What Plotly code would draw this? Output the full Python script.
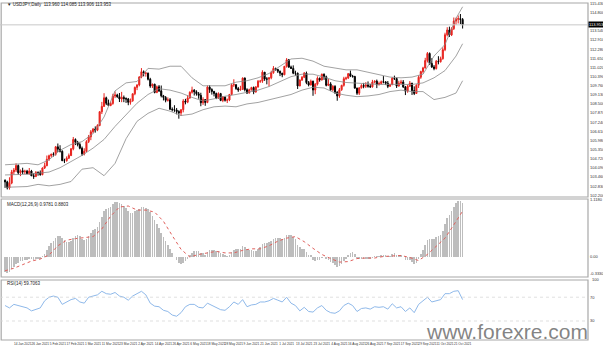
import plotly.graph_objects as go
import pandas as pd

# ---------------- data (USDJPY daily, Jan 4 - Oct 21 2021) ----------------
opens = [
 103.24,103.12,102.71,103.04,103.81,103.94,104.25,103.75,103.89,103.82,
 103.86,103.68,103.87,103.54,103.50,103.77,103.76,103.62,104.08,104.24,
 104.68,104.93,105.04,105.02,105.54,105.38,105.23,104.58,104.58,104.76,
 104.94,105.40,106.05,105.86,105.70,105.44,105.06,105.24,105.90,106.23,
 106.58,106.76,106.69,107.01,107.96,108.33,108.92,108.54,108.39,108.53,
 109.04,109.12,109.00,108.84,108.95,108.87,108.84,108.61,108.71,109.20,
 109.64,109.81,110.35,110.72,110.61,110.62,110.20,109.73,109.86,109.29,
 109.68,109.40,109.06,108.95,108.75,108.78,108.13,108.10,108.08,107.98,
 107.88,108.10,108.70,108.62,108.91,109.30,109.45,109.34,109.20,109.09,
 108.58,108.80,108.60,109.66,109.49,109.36,109.22,108.90,109.21,108.74,
 108.97,108.75,108.77,109.15,109.80,109.83,109.56,109.46,109.50,110.28,
 109.48,109.25,109.48,109.63,109.33,109.67,110.06,110.07,110.69,110.22,
 110.21,110.30,110.65,110.95,110.88,110.75,110.62,110.51,111.09,111.54,
 111.04,110.95,110.62,110.62,109.74,110.15,110.34,110.62,109.97,109.81,
 110.07,109.46,109.86,110.27,110.15,110.55,110.37,109.78,109.88,109.47,
 109.71,109.31,109.05,109.48,109.78,110.24,110.29,110.59,110.42,110.39,
 109.59,109.24,109.61,109.77,109.72,109.80,109.72,109.68,110.01,110.07,
 109.83,109.91,110.03,110.02,109.93,109.71,109.83,110.27,110.25,109.73,
 109.93,110.01,109.67,109.38,109.72,109.93,109.42,109.22,109.79,110.34,
 110.73,110.98,111.49,111.98,111.29,111.05,110.94,111.44,111.41,111.62,
 112.24,113.27,113.60,113.26,113.69,114.21,114.34,114.38,114.33]
highs = [
 103.29,103.20,103.44,103.95,104.08,104.40,104.32,103.98,104.10,103.96,
 103.95,104.08,103.95,103.72,103.87,103.85,103.91,104.12,104.45,104.94,
 105.00,105.06,105.16,105.60,105.77,105.65,105.30,104.72,104.88,105.08,
 105.46,106.22,106.12,105.95,105.84,105.56,105.44,106.00,106.36,106.70,
 106.84,106.95,107.10,108.00,108.64,109.24,109.00,108.80,108.65,109.20,
 109.36,109.20,109.25,109.33,109.08,108.95,108.91,108.87,109.22,109.70,
 109.85,110.42,110.97,110.81,110.71,110.66,110.30,109.90,109.89,109.77,
 109.80,109.77,109.12,109.04,108.95,108.90,108.26,108.41,108.22,108.06,
 108.13,108.83,108.85,109.10,109.37,109.69,109.52,109.44,109.32,109.27,
 108.96,108.82,109.77,109.79,109.58,109.40,109.28,109.30,109.26,109.04,
 109.01,108.87,109.19,109.90,110.20,109.85,109.67,109.75,110.33,110.33,
 109.58,109.55,109.68,109.70,109.73,110.15,110.16,110.82,110.70,110.35,
 110.35,110.79,111.11,111.00,110.92,110.80,110.64,111.12,111.66,111.60,
 111.14,111.16,110.79,110.66,110.19,110.42,110.70,110.73,110.08,110.18,
 110.10,109.94,110.40,110.32,110.59,110.60,110.45,110.21,110.00,109.80,
 109.79,109.37,109.60,109.82,110.37,110.38,110.60,110.80,110.50,110.44,
 109.62,109.65,109.86,109.95,110.00,110.05,109.87,110.16,110.12,110.18,
 110.04,110.11,110.42,110.07,110.08,109.89,110.34,110.45,110.31,110.10,
 110.16,110.15,109.74,109.82,110.08,109.95,109.71,109.85,110.47,110.79,
 111.06,111.68,112.08,112.05,111.65,111.18,111.53,111.79,111.76,112.40,
 113.41,113.79,113.83,113.79,114.46,114.45,114.60,114.70,114.42]
lows = [
 102.71,102.60,102.59,102.96,103.62,103.80,103.62,103.52,103.66,103.66,
 103.69,103.62,103.53,103.33,103.45,103.55,103.55,103.58,104.01,104.20,
 104.57,104.81,104.87,104.93,105.19,105.15,104.58,104.42,104.52,104.70,
 104.90,105.30,105.66,105.57,105.37,104.92,104.95,105.18,105.80,106.00,
 106.47,106.52,106.62,106.96,107.80,108.30,108.42,108.35,108.34,108.44,
 108.90,108.92,108.63,108.62,108.62,108.57,108.41,108.45,108.65,109.10,
 109.45,109.71,110.27,110.40,110.38,110.12,109.61,109.60,109.23,109.24,
 109.32,108.95,108.74,108.61,108.66,108.09,107.98,107.95,107.78,107.48,
 107.67,107.92,108.47,108.55,108.86,109.21,109.08,109.07,108.86,108.34,
 108.43,108.37,108.55,109.26,109.14,109.02,108.83,108.85,108.69,108.62,
 108.66,108.56,108.69,109.10,109.67,109.47,109.33,109.42,109.48,109.36,
 109.19,109.22,109.42,109.17,109.27,109.62,109.95,109.95,110.09,109.85,
 109.71,110.20,110.58,110.79,110.63,110.42,110.34,110.48,111.00,110.98,
 110.91,110.55,110.44,109.53,109.72,110.08,110.28,109.86,109.71,109.77,
 109.06,109.17,109.77,110.03,110.12,110.16,109.71,109.73,109.41,109.36,
 109.18,108.72,108.92,109.40,109.69,110.14,110.22,110.35,110.31,109.55,
 109.12,109.11,109.56,109.58,109.60,109.62,109.60,109.62,109.92,109.59,
 109.77,109.84,109.92,109.80,109.59,109.69,109.79,110.15,109.60,109.70,
 109.88,109.60,109.11,109.27,109.68,109.12,109.11,109.20,109.60,110.23,
 110.60,110.94,111.36,111.19,110.98,110.82,110.87,111.23,111.35,111.55,
 112.14,113.16,113.12,113.18,113.60,113.96,114.05,114.00,113.70]
closes = [
 103.12,102.71,103.04,103.81,103.94,104.25,103.75,103.89,103.82,103.86,
 103.68,103.87,103.54,103.50,103.77,103.76,103.62,104.08,104.24,104.68,
 104.93,105.04,105.02,105.54,105.38,105.23,104.58,104.58,104.76,104.94,
 105.40,106.05,105.86,105.70,105.44,105.06,105.24,105.90,106.23,106.58,
 106.76,106.69,107.01,107.96,108.33,108.92,108.54,108.39,108.53,109.04,
 109.12,109.00,108.84,108.95,108.87,108.84,108.61,108.71,109.20,109.64,
 109.81,110.35,110.72,110.61,110.62,110.20,109.73,109.86,109.29,109.68,
 109.40,109.06,108.95,108.75,108.78,108.13,108.10,108.08,107.98,107.88,
 108.10,108.70,108.62,108.91,109.30,109.45,109.34,109.20,109.09,108.58,
 108.80,108.60,109.66,109.49,109.36,109.22,108.90,109.21,108.74,108.97,
 108.75,108.77,109.15,109.80,109.83,109.56,109.46,109.50,110.28,109.48,
 109.25,109.48,109.63,109.33,109.67,110.06,110.07,110.69,110.22,110.21,
 110.30,110.65,110.95,110.88,110.75,110.62,110.51,111.09,111.54,111.04,
 110.95,110.62,110.62,109.74,110.15,110.34,110.62,109.97,109.81,110.07,
 109.46,109.86,110.27,110.15,110.55,110.37,109.78,109.88,109.47,109.71,
 109.31,109.05,109.48,109.78,110.24,110.29,110.59,110.42,110.39,109.59,
 109.24,109.61,109.77,109.72,109.80,109.72,109.68,110.01,110.07,109.83,
 109.91,110.03,110.02,109.93,109.71,109.83,110.27,110.25,109.73,109.93,
 110.01,109.67,109.38,109.72,109.93,109.42,109.22,109.79,110.34,110.73,
 110.98,111.49,111.98,111.29,111.05,110.94,111.44,111.41,111.62,112.24,
 113.27,113.60,113.26,113.69,114.21,114.34,114.38,114.33,113.95]

bb_idx = [0,5,10,15,20,25,30,35,40,45,50,55,60,65,70,75,80,85,90,95,100,105,
          110,115,120,125,130,135,140,145,150,155,160,165,170,175,180,185,190,
          195,200,205,208]
bb_middle = [103.60,103.62,103.65,103.72,103.80,104.10,104.50,104.95,105.45,106.05,
             106.95,107.75,108.55,109.15,109.55,109.45,109.25,108.95,108.70,108.85,
             109.03,109.15,109.30,109.45,109.70,110.05,110.38,110.55,110.55,110.35,
             110.10,109.98,109.92,109.88,109.84,109.85,109.86,109.84,109.95,110.30,
             110.80,111.80,112.65]
bb_upper = [104.30,104.35,104.40,104.30,104.65,105.30,105.70,105.90,106.45,107.60,
            109.40,109.95,110.05,110.95,110.90,111.10,111.10,110.30,109.75,109.75,
            109.75,110.00,110.10,110.30,110.60,111.10,111.60,111.65,111.45,111.10,
            110.95,110.85,110.85,110.70,110.55,110.35,110.30,110.35,110.55,111.80,
            112.60,114.40,115.20]
bb_lower = [102.75,102.75,102.80,102.95,102.85,102.95,103.15,104.00,104.10,103.55,
            104.40,106.10,107.30,107.85,108.20,108.00,107.70,107.80,108.10,108.30,
            108.35,108.30,108.50,108.60,108.80,109.00,109.15,109.45,109.65,109.60,
            109.25,109.10,109.00,109.05,109.15,109.35,109.45,109.35,109.35,108.80,
            108.95,109.25,110.10]

# MACD (12,26,9) main histogram, one value per bar
macd_main = [
 -0.30,-0.31,-0.30,-0.24,-0.19,-0.13,-0.11,-0.08,-0.07,-0.05,
 -0.05,-0.03,-0.04,-0.05,-0.04,-0.03,-0.03,0.01,0.06,0.13,
 0.21,0.27,0.31,0.38,0.41,0.42,0.37,0.33,0.30,0.29,
 0.31,0.38,0.42,0.43,0.41,0.36,0.33,0.36,0.41,0.48,
 0.53,0.55,0.59,0.69,0.79,0.90,0.95,0.97,0.99,1.04,
 1.07,1.07,1.05,1.03,1.00,0.96,0.91,0.87,0.87,0.90,
 0.93,0.95,0.98,0.99,0.97,0.94,0.88,0.81,0.72,0.65,
 0.57,0.48,0.40,0.32,0.24,0.15,0.07,0.00,-0.06,-0.11,
 -0.14,-0.12,-0.08,-0.04,0.02,0.08,0.11,0.12,0.12,0.08,
 0.07,0.04,0.10,0.13,0.14,0.14,0.11,0.11,0.07,0.06,
 0.03,0.01,0.03,0.09,0.14,0.15,0.15,0.15,0.21,0.19,
 0.15,0.14,0.14,0.11,0.12,0.16,0.19,0.26,0.27,0.28,
 0.29,0.32,0.36,0.38,0.38,0.37,0.35,0.38,0.44,0.44,
 0.43,0.39,0.35,0.24,0.19,0.16,0.16,0.10,0.04,0.02,
 -0.05,-0.07,-0.05,-0.05,-0.01,0.00,-0.04,-0.06,-0.10,-0.11,
 -0.15,-0.19,-0.18,-0.14,-0.07,-0.02,0.04,0.07,0.09,0.05,
 -0.01,-0.02,-0.02,-0.03,-0.03,-0.03,-0.04,-0.01,0.01,0.01,
 0.01,0.02,0.03,0.03,0.01,0.01,0.05,0.07,0.04,0.03,
 0.03,0.00,-0.05,-0.06,-0.05,-0.09,-0.13,-0.11,-0.04,0.05,
 0.13,0.23,0.34,0.36,0.36,0.36,0.39,0.41,0.44,0.51,
 0.64,0.76,0.82,0.90,0.99,1.06,1.09,1.09,1.05]

sig_idx = [0,4,8,12,16,20,24,28,32,36,40,44,48,52,56,60,64,68,72,76,80,84,88,92,
           96,100,104,108,112,116,120,124,128,132,136,140,144,148,152,156,160,164,
           168,172,176,180,184,188,192,196,200,204,208]
macd_signal = [-0.27,-0.22,-0.15,-0.08,-0.04,0.04,0.22,0.33,0.36,0.38,0.40,0.55,0.80,
               0.98,1.00,0.92,0.92,0.88,0.70,0.42,0.15,0.00,0.05,0.08,0.11,0.08,0.08,
               0.13,0.16,0.16,0.22,0.31,0.37,0.40,0.30,0.17,0.05,-0.03,-0.10,-0.09,
               -0.03,-0.02,-0.02,0.01,0.02,0.03,-0.01,-0.07,0.05,0.22,0.37,0.63,0.90]

rsi_idx = list(range(0, 209, 2))
rsi_vals = [56,52,58,56,54,52,47,50,52,64,70,72,70,58,62,66,68,62,60,70,72,74,80,76,
            75,78,72,70,65,72,76,80,74,60,55,54,48,46,40,38,44,54,58,58,53,52,60,56,
            52,49,48,54,62,58,66,54,57,58,62,62,64,68,65,62,70,60,56,47,53,46,45,52,
            56,48,44,43,47,56,60,56,46,51,52,50,54,53,54,50,59,52,54,46,52,44,58,64,
            70,62,64,66,76,76,80,81,66]

price_tick_vals = [102.20,102.83,103.46,104.09,104.72,105.35,105.98,106.61,107.24,
                   107.87,108.50,109.13,109.76,110.39,111.02,111.65,112.28,112.91,
                   113.54,114.80,115.43]
price_tick_text = ["%.3f" % v for v in price_tick_vals]
bid_price = 113.953

# ---------------- layout helpers ----------------
n = len(closes)
bars = list(range(n))
dates = pd.bdate_range("2021-01-04", periods=n)
tick_idx = list(range(0, n, 8))
tick_text = [f"{dates[i].day} {dates[i].strftime('%b %Y')}" for i in tick_idx]

H = 350
def dom(top_px, bot_px):
    return [1 - bot_px / H, 1 - top_px / H]

main_dom = dom(3, 197)
macd_dom = dom(199, 277)
rsi_dom = dom(280, 340)

fig = go.Figure()
fig.add_trace(go.Candlestick(
    x=bars, open=opens, high=highs, low=lows, close=closes,
    increasing=dict(line=dict(color="#e8231e", width=1), fillcolor="#e8231e"),
    decreasing=dict(line=dict(color="#000000", width=1), fillcolor="#000000"),
    whiskerwidth=0, xaxis="x", yaxis="y", showlegend=False))
for vals in (bb_upper, bb_middle, bb_lower):
    fig.add_trace(go.Scatter(x=bb_idx, y=vals, mode="lines",
                             line=dict(color="#8a8a8a", width=0.8),
                             xaxis="x", yaxis="y", showlegend=False))
fig.add_trace(go.Bar(x=bars, y=macd_main, marker=dict(color="#bdbdbd", line=dict(width=0)),
                     width=0.3, xaxis="x", yaxis="y2", showlegend=False))
fig.add_trace(go.Scatter(x=sig_idx, y=macd_signal, mode="lines",
                         line=dict(color="#e0605c", width=1, dash="dot"),
                         xaxis="x", yaxis="y2", showlegend=False))
fig.add_trace(go.Scatter(x=rsi_idx, y=rsi_vals, mode="lines",
                         line=dict(color="#8fb9ea", width=1),
                         xaxis="x", yaxis="y3", showlegend=False))

tf = dict(family="Liberation Sans, Arial", size=4, color="#333333")
xtf = dict(family="Liberation Sans, Arial", size=3.2, color="#333333")
fig.update_layout(
    width=603, height=350, margin=dict(l=0, r=15, t=0, b=0),
    paper_bgcolor="white", plot_bgcolor="white", bargap=0,
    xaxis=dict(domain=[0, 1], range=[-2.3, 265], anchor="y3", tickmode="array",
               tickvals=tick_idx, ticktext=tick_text, tickfont=xtf, tickangle=0,
               showgrid=False, zeroline=False, showline=False, ticks="",
               rangeslider=dict(visible=False), automargin=False, ticklabelstandoff=1),
    yaxis=dict(domain=main_dom, range=[102.08, 115.46], side="right", anchor="x",
               tickmode="array", tickvals=price_tick_vals, ticktext=price_tick_text,
               tickfont=tf, showgrid=False, zeroline=False, ticks="",
               ticklabelstandoff=1, automargin=False),
    yaxis2=dict(domain=macd_dom, range=[-0.392, 1.137], side="right", anchor="x",
                tickmode="array", tickvals=[1.118, 0.0, -0.333],
                ticktext=["1.1180", "0.00", "-0.3330"], tickfont=tf, showgrid=False,
                zeroline=False, ticks="", ticklabelstandoff=1, automargin=False),
    yaxis3=dict(domain=rsi_dom, range=[-2, 99], side="right", anchor="x",
                tickmode="array", tickvals=[70, 30], ticktext=["70", "30"],
                tickfont=tf, showgrid=False, zeroline=False, ticks="",
                ticklabelstandoff=1, automargin=False),
)

shapes = []
for d in (main_dom, macd_dom, rsi_dom):
    shapes.append(dict(type="rect", xref="paper", yref="paper", x0=0.002, x1=1,
                       y0=d[0], y1=d[1], line=dict(color="#a8a8a8", width=1.2)))
shapes.append(dict(type="line", xref="paper", yref="y", x0=0, x1=1, y0=bid_price,
                   y1=bid_price, line=dict(color="#c8c8c8", width=1)))
for lvl in (70, 30):
    shapes.append(dict(type="line", xref="paper", yref="y3", x0=0, x1=1, y0=lvl, y1=lvl,
                       line=dict(color="#d8d8d8", width=0.8, dash="dot")))
fig.update_layout(shapes=shapes)

small = dict(family="Liberation Sans, Arial", size=4.5, color="#222222")
ann = [
    dict(text="▼ USDJPY,Daily  113.960 114.085 113.906 113.953", xref="paper", yref="paper",
         x=0.008, y=1 - 5 / H, xanchor="left", yanchor="middle", showarrow=False, font=small),
    dict(text="MACD(12,26,9) 0.9781 0.8803", xref="paper", yref="paper",
         x=0.008, y=1 - 204 / H, xanchor="left", yanchor="middle", showarrow=False, font=small),
    dict(text="RSI(14) 59.7063", xref="paper", yref="paper",
         x=0.008, y=1 - 283 / H, xanchor="left", yanchor="middle", showarrow=False, font=small),
    dict(text="%.3f" % bid_price, xref="paper", yref="y", x=1.0, y=bid_price,
         xanchor="left", yanchor="middle", showarrow=False, bgcolor="#000000",
         borderpad=0, font=dict(family="Liberation Sans, Arial", size=4, color="#ffffff")),
    dict(text="100", xref="paper", yref="paper", x=1.004, y=1 - 279 / H, xanchor="left",
         yanchor="middle", showarrow=False, font=tf),
    dict(text="www.forexre.com", xref="paper", yref="paper", x=1.003, y=1 - 331 / H,
         xanchor="right", yanchor="middle", showarrow=False,
         font=dict(family="Liberation Sans, Arial", size=21, color="rgba(110,110,110,0.85)")),
]
fig.update_layout(annotations=ann)

fig.write_html("out.html")
